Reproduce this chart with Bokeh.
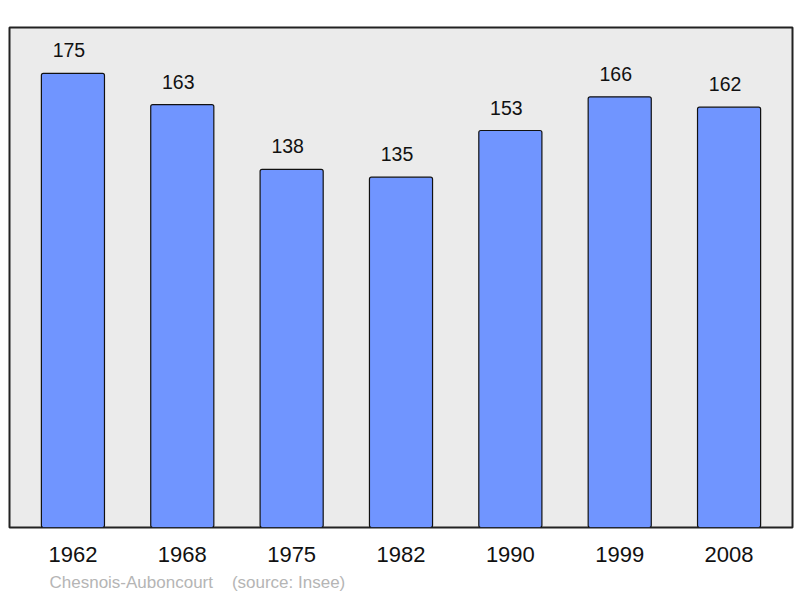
from bokeh.plotting import figure
from bokeh.models import FactorRange, Range1d, ColumnDataSource, LabelSet, Title
from bokeh.core.properties import value
from bokeh.embed import file_html
from bokeh.resources import INLINE

years = ["1962", "1968", "1975", "1982", "1990", "1999", "2008"]
population = [175, 163, 138, 135, 153, 166, 162]
footer = "Chesnois-Auboncourt\u00a0\u00a0\u00a0\u00a0(source: Insee)"

FONT = "Liberation Sans"

src = ColumnDataSource(dict(year=years, pop=population, lab=[str(v) for v in population]))

p = figure(
    width=799, height=597,
    x_range=FactorRange(*years, range_padding=0.16 / 7),
    y_range=Range1d(0, 192.7),
    output_backend="svg", toolbar_location=None,
    min_border_left=9, min_border_right=7, min_border_top=27, min_border_bottom=6,
)
p.background_fill_color = "#ebebeb"
p.border_fill_color = "white"
p.outline_line_color = "#222222"
p.outline_line_width = 2
p.xgrid.visible = False
p.ygrid.visible = False
p.yaxis.visible = False

p.vbar(x="year", top="pop", width=0.577, source=src,
       fill_color="#7095ff", line_color="#111111", line_width=1.2,
       border_radius=2)

labels = LabelSet(x="year", y="pop", text="lab", source=src, y_offset=16, x_offset=-4,
                  text_align="center", text_baseline="alphabetic",
                  text_font=value(FONT), text_font_size=value("19.5px"),
                  text_color="#111111")
p.add_layout(labels)

ax = p.xaxis[0]
ax.axis_line_color = None
ax.major_tick_line_color = None
ax.minor_tick_line_color = None
ax.major_tick_out = 0
ax.major_tick_in = 0
ax.major_label_standoff = 19
ax.major_label_text_font = FONT
ax.major_label_text_font_size = "22px"
ax.major_label_text_color = "#111111"

p.add_layout(Title(text=footer, align="left", offset=40, text_font=FONT,
                   text_font_size="17px", text_font_style="normal",
                   text_color="#b5b5b5", standoff=12), "below")

open("out.html", "w").write(file_html(p, INLINE))
